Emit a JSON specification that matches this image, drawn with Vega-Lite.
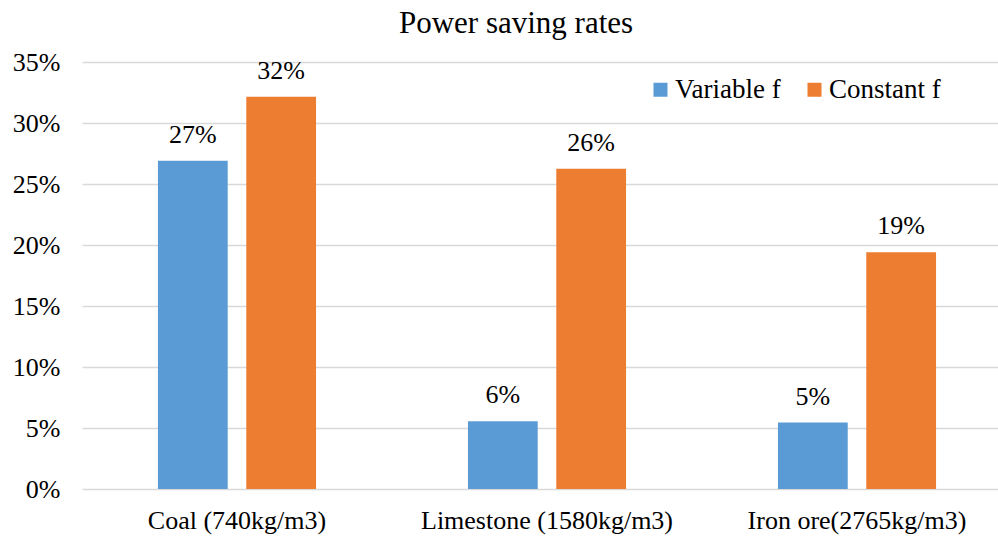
{
  "$schema": "https://vega.github.io/schema/vega-lite/v6.json",
  "autosize": "none",
  "width": 916,
  "height": 427,
  "padding": {"left": 82, "top": 62, "right": 0, "bottom": 47},
  "background": "white",
  "title": {
    "text": "Power saving rates",
    "font": "Liberation Serif",
    "fontSize": 31,
    "fontWeight": "normal",
    "color": "#000000",
    "anchor": "middle",
    "dx": -24,
    "offset": 9
  },
  "config": {
    "view": {"stroke": null},
    "font": "Liberation Serif"
  },
  "data": {
    "values": [
      {"material": "Coal (740kg/m3)", "series": "Variable f", "rate": 0.269},
      {"material": "Coal (740kg/m3)", "series": "Constant f", "rate": 0.3215},
      {"material": "Limestone (1580kg/m3)", "series": "Variable f", "rate": 0.0555},
      {"material": "Limestone (1580kg/m3)", "series": "Constant f", "rate": 0.2625},
      {"material": "Iron ore(2765kg/m3)", "series": "Variable f", "rate": 0.0545},
      {"material": "Iron ore(2765kg/m3)", "series": "Constant f", "rate": 0.194}
    ]
  },
  "encoding": {
    "x": {
      "field": "material",
      "type": "nominal",
      "sort": null,
      "scale": {"range": [0, 930], "paddingInner": 0, "paddingOuter": 0},
      "axis": {
        "title": null,
        "labelAngle": 0,
        "labelFont": "Liberation Serif",
        "labelFontSize": 26,
        "labelColor": "#000000",
        "labelPadding": 18,
        "labelLimit": 0,
        "ticks": false,
        "domain": false,
        "grid": false
      }
    },
    "xOffset": {
      "field": "series",
      "type": "nominal",
      "sort": ["Variable f", "Constant f"],
      "scale": {"paddingInner": 0.21, "paddingOuter": 0.86}
    },
    "y": {
      "field": "rate",
      "type": "quantitative",
      "scale": {"domain": [0, 0.35], "nice": false},
      "axis": {
        "title": null,
        "format": ".0%",
        "values": [0, 0.05, 0.1, 0.15, 0.2, 0.25, 0.3, 0.35],
        "labelFont": "Liberation Serif",
        "labelFontSize": 26,
        "labelColor": "#000000",
        "labelPadding": 22,
        "ticks": false,
        "domain": false,
        "grid": true,
        "gridColor": "#d9d9d9",
        "gridWidth": 1.5
      }
    }
  },
  "layer": [
    {
      "mark": {"type": "bar"},
      "encoding": {
        "color": {
          "field": "series",
          "type": "nominal",
          "scale": {"domain": ["Variable f", "Constant f"], "range": ["#5b9bd5", "#ed7d31"]},
          "legend": {
            "title": null,
            "orient": "none",
            "direction": "horizontal",
            "legendX": 565,
            "legendY": 14,
            "symbolType": "square",
            "symbolSize": 196,
            "symbolStrokeWidth": 0,
            "labelFont": "Liberation Serif",
            "labelFontSize": 27,
            "labelColor": "#000000",
            "labelOffset": 1,
            "columnPadding": 20
          }
        }
      }
    },
    {
      "mark": {
        "type": "text",
        "font": "Liberation Serif",
        "fontSize": 26,
        "color": "#000000",
        "baseline": "alphabetic",
        "dy": -18
      },
      "encoding": {
        "text": {"field": "rate", "type": "quantitative", "format": ".0%"}
      }
    }
  ]
}
